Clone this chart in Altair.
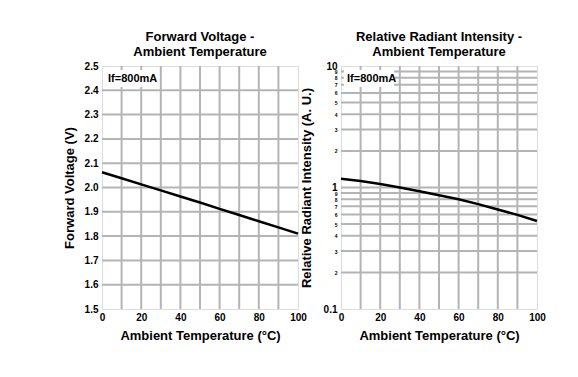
import altair as alt
import pandas as pd

FONT = "Liberation Sans"

# ---- data ----
temps = [0, 10, 20, 30, 40, 50, 60, 70, 80, 90, 100]
vf = [2.063, 2.038, 2.013, 1.988, 1.963, 1.938, 1.912, 1.887, 1.861, 1.836, 1.810]
rel = [1.18, 1.13, 1.07, 1.00, 0.93, 0.865, 0.80, 0.73, 0.66, 0.595, 0.53]

x_grid = [10, 20, 30, 40, 50, 60, 70, 80, 90]
x_labels = [0, 20, 40, 60, 80, 100]
vf_ticks = [1.5, 1.6, 1.7, 1.8, 1.9, 2.0, 2.1, 2.2, 2.3, 2.4, 2.5]
vf_grid = [1.6, 1.7, 1.8, 1.9, 2.0, 2.1, 2.2, 2.3, 2.4]
log_ticks = [0.1, 0.2, 0.3, 0.4, 0.5, 0.6, 0.7, 0.8, 0.9, 1, 2, 3, 4, 5, 6, 7, 8, 9, 10]
log_grid = [0.2, 0.3, 0.4, 0.5, 0.6, 0.7, 0.8, 0.9, 1, 2, 3, 4, 5, 6, 7, 8, 9]

W, H = 196, 243
GRID = "#b4b4b4"

df_vf = pd.DataFrame({"t": temps, "v": vf})
df_rel = pd.DataFrame({"t": temps, "r": rel})

xscale = alt.Scale(domain=[0, 100], nice=False, zero=False)
xaxis = alt.Axis(values=x_labels, title="Ambient Temperature (°C)", grid=False, ticks=False,
                 domain=False, labelFont=FONT, labelFontWeight="bold", labelFontSize=10,
                 labelFlush=False, labelPadding=3, labelColor="#000",
                 titleFont=FONT, titleFontWeight="bold", titleFontSize=13, titlePadding=7,
                 titleColor="#000")


def panel(df, ycol, yscale, yaxis, ygrid, title):
    vgrid = alt.Chart(pd.DataFrame({"t": x_grid})).mark_rule(color=GRID, strokeWidth=2).encode(
        x=alt.X("t:Q", scale=xscale, axis=xaxis))
    hgrid = alt.Chart(pd.DataFrame({ycol: ygrid})).mark_rule(color=GRID, strokeWidth=2).encode(
        y=alt.Y(f"{ycol}:Q", scale=yscale, axis=yaxis))
    line = alt.Chart(df).mark_line(color="#000", strokeWidth=2.5).encode(
        x=alt.X("t:Q", scale=xscale, axis=xaxis),
        y=alt.Y(f"{ycol}:Q", scale=yscale, axis=yaxis))
    box = alt.Chart(pd.DataFrame({"a": [0]})).mark_rect(color="white").encode(
        x=alt.value(3), x2=alt.value(53), y=alt.value(4), y2=alt.value(21))
    label = alt.Chart(pd.DataFrame({"s": ["If=800mA"]})).mark_text(
        font=FONT, fontWeight="bold", fontSize=11, align="left", baseline="middle", color="#000"
    ).encode(x=alt.value(6), y=alt.value(13), text="s:N")
    return alt.layer(vgrid, hgrid, line, box, label).properties(
        width=W, height=H,
        title=alt.TitleParams(title, font=FONT, fontSize=13, fontWeight="bold", color="#000",
                              anchor="middle", offset=2, lineHeight=15))


yaxis_l = alt.Axis(values=vf_ticks, format=".1f", title="Forward Voltage (V)", grid=False, ticks=False,
                   domain=False, labelFont=FONT, labelFontWeight="bold", labelFontSize=10,
                   labelFlush=False, labelOverlap=False, labelPadding=4, labelColor="#000",
                   titleFont=FONT, titleFontWeight="bold", titleFontSize=13, titlePadding=8,
                   titleColor="#000")
left = panel(df_vf, "v", alt.Scale(domain=[1.5, 2.5], nice=False, zero=False), yaxis_l, vf_grid,
             ["Forward Voltage -", "Ambient Temperature"])

major = "datum.value == 0.1 || datum.value == 1 || datum.value == 10"
yaxis_r = alt.Axis(values=log_ticks,
                   labelExpr="datum.value == 0.1 ? '0.1' : datum.value < 1 ? format(datum.value*10, 'd') : format(datum.value, 'd')",
                   title="Relative Radiant Intensity (A. U.)", grid=False, ticks=False,
                   domain=False, labelFont=FONT, labelFontWeight="bold",
                   labelFontSize={"condition": {"test": major, "value": 10}, "value": 5},
                   labelFlush=False, labelOverlap=False, labelPadding=4, labelColor="#000",
                   titleFont=FONT, titleFontWeight="bold", titleFontSize=13, titlePadding=10,
                   titleColor="#000")
right = panel(df_rel, "r", alt.Scale(type="log", domain=[0.1, 10], nice=False), yaxis_r, log_grid,
              ["Relative Radiant Intensity -", "Ambient Temperature"])

chart = alt.hconcat(left, right, spacing=43, bounds="flush").properties(
    padding={"left": 62, "top": 30, "right": 30, "bottom": 30}
).configure_view(stroke="#3c3c3c", strokeWidth=2).configure(background="white")

chart.save("out.html", embed_options={"renderer": "svg", "actions": False})
